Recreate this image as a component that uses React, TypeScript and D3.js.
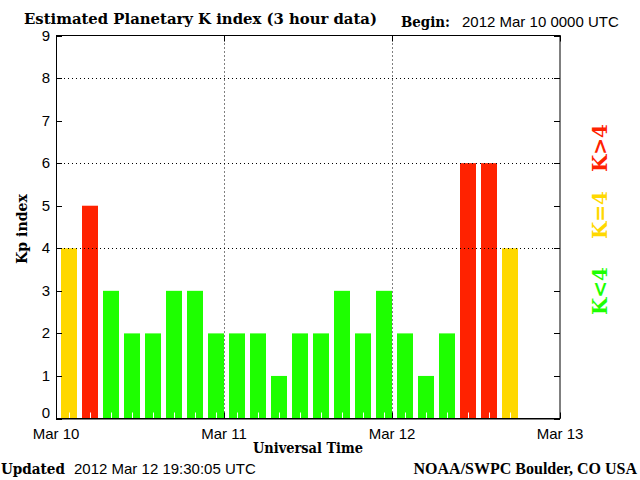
import React, { useEffect, useRef } from 'react';
import * as d3 from 'd3';

// Kp values, one per 3 hour interval starting 2012 Mar 10 00 UTC
const kpValues = [4, 5, 3, 2, 2, 3, 3, 2, 2, 2, 1, 2, 2, 3, 2, 3, 2, 1, 2, 6, 6, 4];
const dayTicks = [10, 11, 12, 13].map(d => new Date(Date.UTC(2012, 2, d)));
const kpTicks = [0, 1, 2, 3, 4, 5, 6, 7, 8, 9];
const gridLevels = [4, 6, 8];
const legendLabels = ['K>4', 'K=4', 'K<4'];

const GREEN = '#1eff00';
const YELLOW = '#ffd800';
const RED = '#ff2200';
const SERIF = '"DejaVu Serif", "Liberation Serif", serif';
const SANS = '"Liberation Sans", Arial, sans-serif';

const kpColor = (k: number) => (k < 4 ? GREEN : k === 4 ? YELLOW : RED);

const KpChart = () => {
  const svgRef = useRef<SVGSVGElement>(null);

  useEffect(() => {
    const width = 640;
    const height = 480;
    const left = 56, right = 560, top = 35.5, bottom = 418.5;

    const svg = d3.select(svgRef.current).attr('width', width).attr('height', height);
    svg.selectAll('*').remove();

    svg.append('rect').attr('width', width).attr('height', height).attr('fill', '#fff');

    const x = d3.scaleUtc().domain([dayTicks[0], dayTicks[dayTicks.length - 1]]).range([left, right]);
    const y = d3.scaleLinear().domain([0, 9]).range([bottom, top]);

    // bars
    const barData = kpValues.map((k, i) => ({ t: d3.utcHour.offset(dayTicks[0], 3 * i), k }));
    const slot = x(d3.utcHour.offset(dayTicks[0], 3)) - x(dayTicks[0]);
    svg.append('g')
      .selectAll('rect')
      .data(barData)
      .join('rect')
      .attr('x', d => x(d.t) + 5)
      .attr('width', slot - 5)
      .attr('y', d => y(d.k))
      .attr('height', d => y(0) - y(d.k))
      .attr('fill', d => kpColor(d.k));

    // little white ticks at bar centres
    svg.append('g')
      .selectAll('line')
      .data(barData)
      .join('line')
      .attr('x1', d => Math.round(x(d.t) + 5 + (slot - 5) / 2) + 0.5)
      .attr('x2', d => Math.round(x(d.t) + 5 + (slot - 5) / 2) + 0.5)
      .attr('y1', bottom - 6)
      .attr('y2', bottom)
      .attr('stroke', '#fff')
      .attr('stroke-width', 1);

    // dotted grid
    const grid = svg.append('g').attr('stroke', '#000').attr('stroke-width', 1).attr('stroke-dasharray', '1,3');
    grid.selectAll('.h')
      .data(gridLevels)
      .join('line')
      .attr('x1', left).attr('x2', right)
      .attr('y1', d => Math.round(y(d)) + 0.5).attr('y2', d => Math.round(y(d)) + 0.5);
    grid.selectAll('.v')
      .data(dayTicks.slice(1, -1))
      .join('line')
      .attr('x1', d => Math.round(x(d)) + 0.5).attr('x2', d => Math.round(x(d)) + 0.5)
      .attr('y1', top).attr('y2', bottom);

    // frame and ticks
    svg.append('rect')
      .attr('x', left + 0.5).attr('y', top)
      .attr('width', right - left - 0.5).attr('height', bottom - top)
      .attr('fill', 'none').attr('stroke', '#000').attr('stroke-width', 1);
    svg.append('line')
      .attr('x1', left).attr('x2', right).attr('y1', bottom + 0.5).attr('y2', bottom + 0.5)
      .attr('stroke', '#000');

    const ticks = svg.append('g').attr('stroke', '#000').attr('stroke-width', 1);
    ticks.selectAll('.yl')
      .data(kpTicks)
      .join('line')
      .attr('x1', left).attr('x2', left + 6)
      .attr('y1', d => Math.round(y(d)) + 0.5).attr('y2', d => Math.round(y(d)) + 0.5);
    ticks.selectAll('.yr')
      .data(kpTicks)
      .join('line')
      .attr('x1', right - 6).attr('x2', right)
      .attr('y1', d => Math.round(y(d)) + 0.5).attr('y2', d => Math.round(y(d)) + 0.5);
    ticks.selectAll('.xt')
      .data(dayTicks)
      .join('line')
      .attr('x1', d => Math.round(x(d)) + 0.5).attr('x2', d => Math.round(x(d)) + 0.5)
      .attr('y1', top).attr('y2', top + 6);
    ticks.selectAll('.xb')
      .data(dayTicks)
      .join('line')
      .attr('x1', d => Math.round(x(d)) + 0.5).attr('x2', d => Math.round(x(d)) + 0.5)
      .attr('y1', bottom - 6).attr('y2', bottom);

    // tick labels
    svg.append('g')
      .selectAll('text')
      .data(kpTicks)
      .join('text')
      .attr('x', 50)
      .attr('y', d => Math.min(y(d) + 5, 418))
      .attr('text-anchor', 'end')
      .attr('font-family', SANS)
      .attr('font-size', 15)
      .text(d => d);

    svg.append('g')
      .selectAll('text')
      .data(dayTicks)
      .join('text')
      .attr('x', d => x(d))
      .attr('y', 439)
      .attr('text-anchor', 'middle')
      .attr('font-family', SANS)
      .attr('font-size', 15)
      .text(d => d3.utcFormat('%b %-d')(d));

    const serifText = (txt: string, tx: number, ty: number, len: number, size: number, anchor = 'start') =>
      svg.append('text')
        .attr('x', tx).attr('y', ty)
        .attr('text-anchor', anchor)
        .attr('font-family', SERIF)
        .attr('font-weight', 'bold')
        .attr('font-size', size)
        .attr('textLength', len)
        .attr('lengthAdjust', 'spacingAndGlyphs')
        .text(txt);

    const sansText = (txt: string, tx: number, ty: number) =>
      svg.append('text')
        .attr('x', tx).attr('y', ty)
        .attr('font-family', SANS)
        .attr('font-size', 15)
        .text(txt);

    serifText('Estimated Planetary K index (3 hour data)', 24, 24, 353, 15);
    serifText('Begin:', 401, 27, 49, 15);
    sansText(d3.utcFormat('%Y %b %d %H%M UTC')(dayTicks[0]), 462, 27);

    serifText('Universal Time', 308, 453, 110, 15, 'middle');
    serifText('Updated', 1, 474, 64, 15);
    sansText('2012 Mar 12 19:30:05 UTC', 74, 474);
    svg.append('text')
      .attr('x', 637).attr('y', 474)
      .attr('text-anchor', 'end')
      .attr('font-family', '"Liberation Serif", serif')
      .attr('font-weight', 'bold')
      .attr('font-size', 16)
      .text('NOAA/SWPC Boulder, CO USA');

    // y axis title
    svg.append('text')
      .attr('transform', 'translate(27,229) rotate(-90)')
      .attr('text-anchor', 'middle')
      .attr('font-family', SERIF)
      .attr('font-weight', 'bold')
      .attr('font-size', 15)
      .attr('textLength', 70)
      .attr('lengthAdjust', 'spacingAndGlyphs')
      .text('Kp index');

    // colour legend on the right
    const legendY = [148, 215, 291];
    const legendColors = [RED, YELLOW, GREEN];
    svg.append('g')
      .selectAll('text')
      .data(legendLabels)
      .join('text')
      .attr('transform', (_, i) => `translate(607,${legendY[i]}) rotate(-90)`)
      .attr('text-anchor', 'middle')
      .attr('font-family', SERIF)
      .attr('font-weight', 'bold')
      .attr('font-size', 20)
      .attr('fill', (_, i) => legendColors[i])
      .text(d => d);
  }, []);

  return <svg ref={svgRef} style={{ position: 'absolute', left: 0, top: 0, display: 'block' }}></svg>;
};

export default function App() {
  return <KpChart />;
}
